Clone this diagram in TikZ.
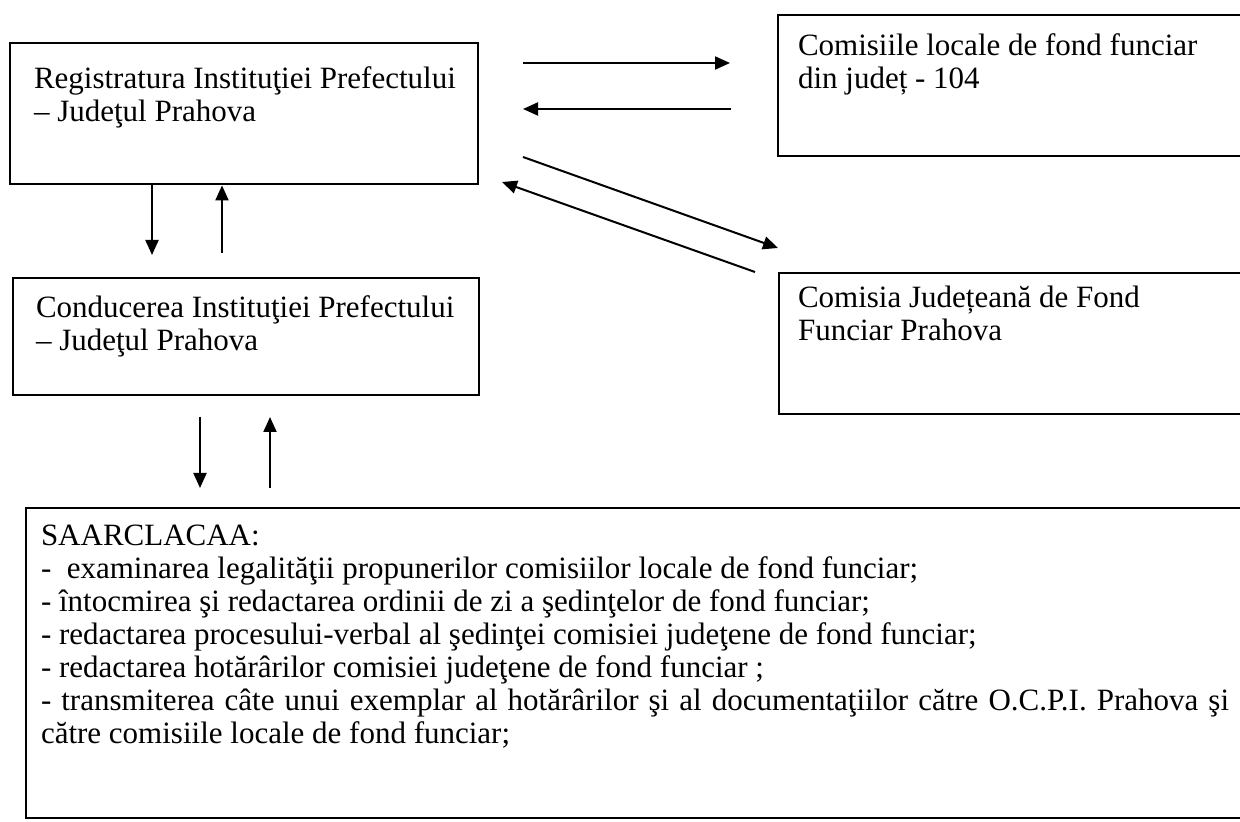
\documentclass[tikz,border=0pt]{standalone}
\usepackage{fontspec}
\setmainfont{Liberation Serif}
\usetikzlibrary{arrows.meta,positioning,calc}

\begin{document}
\begin{tikzpicture}[x=0.5pt,y=-0.5pt,>={Triangle[length=7.5pt,width=6.5pt]},line width=1pt]
    \tikzset{
        box/.style={
            draw,
            line width=1.2pt,
            anchor=north west,
            inner sep=0pt
        },
        txt/.style={
            anchor=north west,
            inner sep=0pt,
            align=left,
            font={\fontsize{15.5}{16.5}\selectfont}
        }
    }

    \useasboundingbox (0,0) rectangle (1240,822);
    \clip (0,0) rectangle (1240,822);

    % Registratura
    \node[box,minimum width=234pt,minimum height=70.5pt] (reg) at (9,42) {};
    \node[txt] (reg_txt) at (33,66) {Registratura Instituţiei Prefectului\\– Judeţul Prahova};

    % Comisiile locale
    \node[box,minimum width=240pt,minimum height=70.5pt] (loc) at (777,14) {};
    \node[txt] (loc_txt) at (797,33) {Comisiile locale de fond funciar\\din județ - 104};

    % Comisia judeteana
    \node[box,minimum width=240pt,minimum height=70.5pt] (cjff) at (778,272) {};
    \node[txt] (cjff_txt) at (797,285) {Comisia Județeană de Fond\\Funciar Prahova};

    % Conducerea
    \node[box,minimum width=233pt,minimum height=58.5pt] (cond) at (12,277) {};
    \node[txt] (cond_txt) at (35,295) {Conducerea Instituţiei Prefectului\\– Judeţul Prahova};

    % SAARCLACAA
    \node[box,minimum width=620pt,minimum height=155pt] (saar) at (25,507) {};
    \node[txt,text width=594pt,align=justify,
          font={\fontsize{15.5}{16.5}\selectfont\hyphenpenalty=10000\parindent=0pt}]
        (saar_txt) at (40,524) {%
        SAARCLACAA:\\
        -\ \ examinarea legalităţii propunerilor comisiilor locale de fond funciar;\\
        - întocmirea şi redactarea ordinii de zi a şedinţelor de fond funciar;\\
        - redactarea procesului-verbal al şedinţei comisiei judeţene de fond funciar;\\
        - redactarea hotărârilor comisiei judeţene de fond funciar ;\\
        - transmiterea câte unui exemplar al hotărârilor şi al documentaţiilor către O.C.P.I. Prahova şi către comisiile locale de fond funciar;};

    % Registratura - Comisiile locale
    \coordinate (loc_in_s) at (523,63);
    \coordinate (loc_in_e) at (730,63);
    \coordinate (loc_out_s) at (731,109);
    \coordinate (loc_out_e) at (523,109);
    \draw[->] (loc_in_s) -- (loc_in_e);
    \draw[->] (loc_out_s) -- (loc_out_e);

    % Registratura - Comisia judeteana
    \coordinate (cjff_in_s) at (523,157);
    \coordinate (cjff_in_e) at (778,248);
    \coordinate (cjff_out_s) at (755,272);
    \coordinate (cjff_out_e) at (502,182);
    \draw[->] (cjff_in_s) -- (cjff_in_e);
    \draw[->] (cjff_out_s) -- (cjff_out_e);

    % Registratura - Conducerea
    \coordinate (cond_dn) at (152,255);
    \coordinate (cond_up) at (222,253);
    \draw[->] (cond_dn |- reg.south) -- (cond_dn);
    \draw[->] (cond_up) -- (cond_up |- reg.south);

    % Conducerea - SAARCLACAA
    \coordinate (saar_dn_s) at (200,417);
    \coordinate (saar_dn_e) at (200,488);
    \coordinate (saar_up_s) at (270,488);
    \coordinate (saar_up_e) at (270,417);
    \draw[->] (saar_dn_s) -- (saar_dn_e);
    \draw[->] (saar_up_s) -- (saar_up_e);
\end{tikzpicture}
\end{document}
